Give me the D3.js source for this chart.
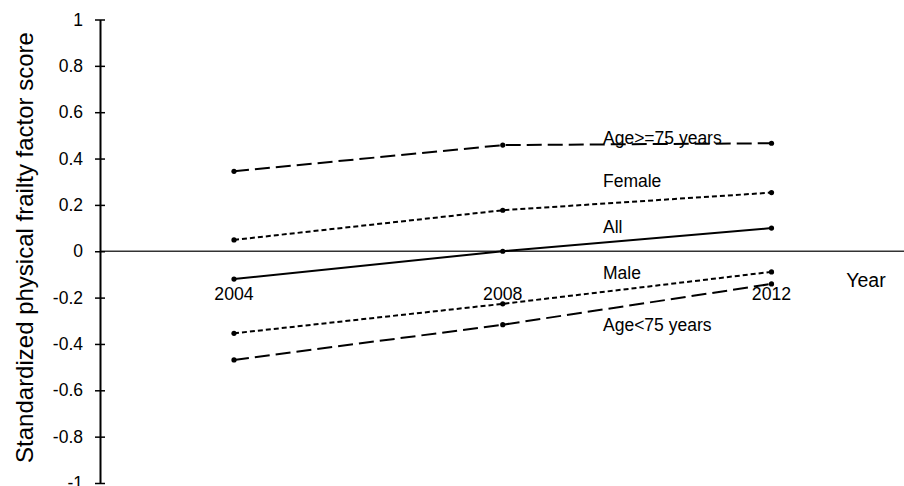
<!DOCTYPE html>
<html>
<head>
<meta charset="utf-8">
<script src="https://cdn.jsdelivr.net/npm/d3@7"></script>
<style>
  body { margin: 0; background: #fff; }
  text { font-family: "Liberation Sans", Arial, sans-serif; fill: #000; }
</style>
</head>
<body>
<script>
var years = [2004, 2008, 2012];
var yTicks = [1, 0.8, 0.6, 0.4, 0.2, 0, -0.2, -0.4, -0.6, -0.8, -1];

var ageOld = [0.345, 0.458, 0.466];
var female = [0.049, 0.177, 0.253];
var all = [-0.12, 0.0, 0.10];
var male = [-0.354, -0.227, -0.089];
var ageYoung = [-0.469, -0.317, -0.141];

var seriesNames = ['Age>=75 years', 'Female', 'All', 'Male', 'Age<75 years'];
var seriesValues = [ageOld, female, all, male, ageYoung];
var seriesDash = ['15,6', '5,3', null, '5,3', '15,6'];
var labelY = [144, 187, 233, 279, 331];

var width = 904, height = 486;

var svg = d3.select('body').append('svg')
	.attr('width', width)
	.attr('height', height);

var x = d3.scaleLinear().domain([2004, 2012]).range([234, 771.5]);
var y = d3.scaleLinear().domain([-1, 1]).range([483, 19.5]);

// zero line
svg.append('line')
	.attr('x1', 100).attr('x2', width)
	.attr('y1', y(0)).attr('y2', y(0))
	.attr('stroke', '#333').attr('stroke-width', 1.5);

// y axis, plain hyphen for negatives like the original
var yAxis = d3.axisLeft(y)
	.tickValues(yTicks)
	.tickSizeInner(5)
	.tickSizeOuter(0)
	.tickPadding(12)
	.tickFormat(function(d){ return String(+d.toFixed(1)); });

var gy = svg.append('g')
	.attr('transform', 'translate(100,0)')
	.call(yAxis);
gy.select('.domain').attr('stroke', '#000').attr('stroke-width', 2);
gy.selectAll('.tick line').attr('x2', 5).attr('x1', -5).attr('stroke', '#000').attr('stroke-width', 1.5);
gy.selectAll('.tick text')
	.style('font-family', '"Liberation Sans", Arial, sans-serif')
	.style('font-size', '17.5px')
	.attr('x', -17);

// y title
svg.append('text')
	.attr('transform', 'translate(33,247.5) rotate(-90)')
	.attr('text-anchor', 'middle')
	.style('font-size', '24px')
	.text('Standardized physical frailty factor score');

// year labels
svg.selectAll('.yearlab')
	.data(years)
	.enter()
	.append('text')
	.attr('class', 'yearlab')
	.attr('x', function(d){ return x(d); })
	.attr('y', 300)
	.attr('text-anchor', 'middle')
	.style('font-size', '17.7px')
	.text(function(d){ return d; });

svg.append('text')
	.attr('x', 866)
	.attr('y', 287)
	.attr('text-anchor', 'middle')
	.style('font-size', '19.5px')
	.text('Year');

// series labels
svg.selectAll('.slab')
	.data(seriesNames)
	.enter()
	.append('text')
	.attr('class', 'slab')
	.attr('x', 603)
	.attr('y', function(d, i){ return labelY[i]; })
	.style('font-size', '17.5px')
	.text(function(d){ return d; });

// lines
var line = d3.line()
	.x(function(d, i){ return x(years[i]); })
	.y(function(d){ return y(d); });

seriesValues.forEach(function(vals, k) {
	svg.append('path')
		.datum(vals)
		.attr('d', line)
		.attr('fill', 'none')
		.attr('stroke', '#000')
		.attr('stroke-width', 2)
		.attr('stroke-dasharray', seriesDash[k]);
	svg.selectAll('.pt' + k)
		.data(vals)
		.enter()
		.append('circle')
		.attr('class', 'pt' + k)
		.attr('cx', function(d, i){ return x(years[i]); })
		.attr('cy', function(d){ return y(d); })
		.attr('r', 2.6)
		.attr('fill', '#000');
});
</script>
</body>
</html>
